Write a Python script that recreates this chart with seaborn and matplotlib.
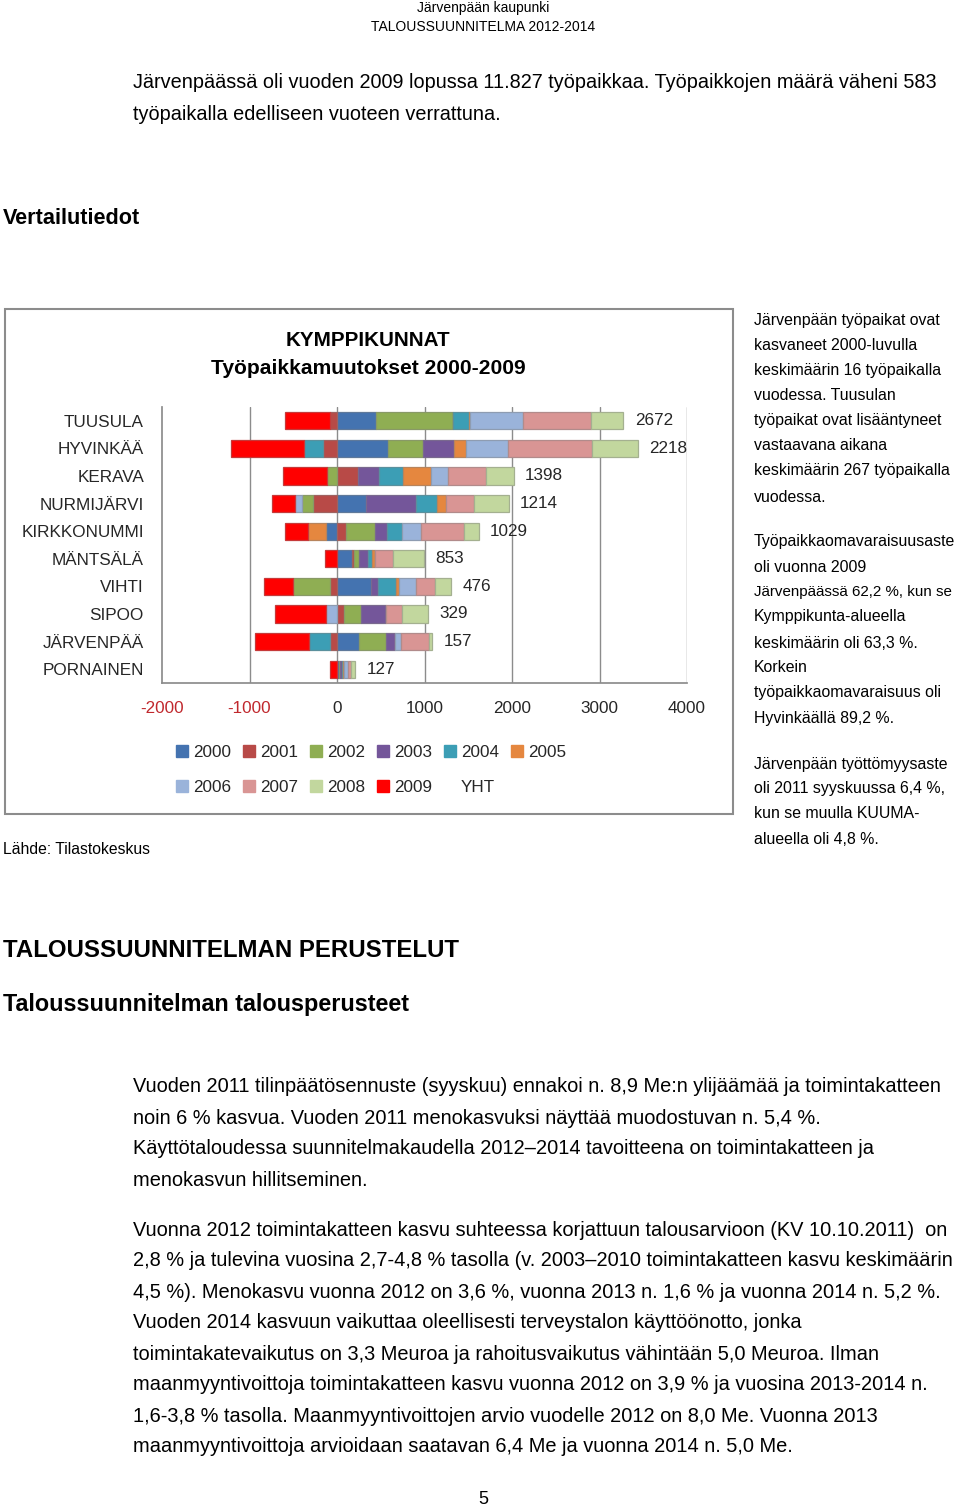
import numpy as np
import matplotlib
matplotlib.use('Agg')
import matplotlib.pyplot as plt
import matplotlib.colors as mcolors
from matplotlib.patches import Patch, Rectangle
import seaborn as sns

# --- Data ---
kunnat = ['TUUSULA', 'HYVINKÄÄ', 'KERAVA', 'NURMIJÄRVI', 'KIRKKONUMMI',
          'MÄNTSÄLÄ', 'VIHTI', 'SIPOO', 'JÄRVENPÄÄ', 'PORNAINEN']
vuodet = ['2000', '2001', '2002', '2003', '2004', '2005', '2006', '2007', '2008', '2009']

v2000 = [440, 585, 0, 328, -122, 171, 385, 0, 251, 25]
v2001 = [-80, -155, 236, -278, 99, 20, -76, 84, -84, 0]
v2002 = [885, 400, -118, -118, 331, 61, -427, 194, 312, 10]
v2003 = [0, 355, 248, 570, 145, 103, 84, 282, 103, 20]
v2004 = [180, -220, 274, 248, 171, 46, 210, 0, -240, 15]
v2005 = [15, 130, 316, 95, -213, 30, 25, 0, 0, 5]
v2006 = [600, 485, 190, -84, 217, 0, 202, -122, 69, 55]
v2007 = [780, 960, 440, 320, 485, 210, 218, 183, 316, 30]
v2008 = [372, 520, 316, 400, 171, 353, 183, 298, 38, 51]
v2009 = [-520, -842, -504, -267, -255, -141, -328, -590, -608, -84]
yht = [2672, 2218, 1398, 1214, 1029, 853, 476, 329, 157, 127]

sarjat = [v2000, v2001, v2002, v2003, v2004, v2005, v2006, v2007, v2008, v2009]
varit = ['#4473B0', '#B84A47', '#8FAE53', '#74569A', '#3C9EB5',
         '#E5873F', '#9AB3DA', '#D99594', '#C2D79E', '#FF0000']

# --- Style ---
sns.set_theme(style='white')
plt.rcParams['font.family'] = ['Liberation Sans', 'DejaVu Sans']

W, H = 960, 1509
fig = plt.figure(figsize=(W / 100, H / 100), dpi=100)


def px(x, y):
    return x / W, 1 - y / H


def teksti(x, y, s, size=14.4, **kw):
    fx, fy = px(x, y)
    fig.text(fx, fy, s, fontsize=size, va='center', color='black', **kw)


# --- Page text ---
teksti(483, 8, 'Järvenpään kaupunki', size=10, ha='center')
teksti(483, 27, 'TALOUSSUUNNITELMA 2012-2014', size=10, ha='center')
teksti(133, 83, 'Järvenpäässä oli vuoden 2009 lopussa 11.827 työpaikkaa. Työpaikkojen määrä väheni 583', size=14.3)
teksti(133, 114, 'työpaikalla edelliseen vuoteen verrattuna.', size=14.3)
teksti(3, 219, 'Vertailutiedot', size=15.6, weight='bold')

oikea = [
    (320, 'Järvenpään työpaikat ovat'), (345, 'kasvaneet 2000-luvulla'),
    (370, 'keskimäärin 16 työpaikalla'), (395, 'vuodessa. Tuusulan'),
    (421, 'työpaikat ovat lisääntyneet'), (446, 'vastaavana aikana'),
    (471, 'keskimäärin 267 työpaikalla'), (497, 'vuodessa.'),
    (542, 'Työpaikkaomavaraisuusaste'), (567, 'oli vuonna 2009'),
    (592, 'Järvenpäässä 62,2 %, kun se'), (617, 'Kymppikunta-alueella'),
    (643, 'keskimäärin oli 63,3 %.'), (668, 'Korkein'),
    (693, 'työpaikkaomavaraisuus oli'), (718, 'Hyvinkäällä 89,2 %.'),
    (764, 'Järvenpään työttömyysaste'), (789, 'oli 2011 syyskuussa 6,4 %,'),
    (814, 'kun se muulla KUUMA-'), (840, 'alueella oli 4,8 %.'),
]
for y, s in oikea:
    koko = 10.9 if s.startswith('Järvenpäässä 62') else 11.4
    teksti(754, y, s, size=koko)

teksti(3, 849, 'Lähde: Tilastokeskus', size=11.3)
teksti(3, 950, 'TALOUSSUUNNITELMAN PERUSTELUT', size=17.3, weight='bold')
teksti(3, 1004, 'Taloussuunnitelman talousperusteet', size=16.8, weight='bold')

alhaalla = [
    (1087, 'Vuoden 2011 tilinpäätösennuste (syyskuu) ennakoi n. 8,9 Me:n ylijäämää ja toimintakatteen'),
    (1118, 'noin 6 % kasvua. Vuoden 2011 menokasvuksi näyttää muodostuvan n. 5,4 %.'),
    (1149, 'Käyttötaloudessa suunnitelmakaudella 2012–2014 tavoitteena on toimintakatteen ja'),
    (1180, 'menokasvun hillitseminen.'),
    (1230, 'Vuonna 2012 toimintakatteen kasvu suhteessa korjattuun talousarvioon (KV 10.10.2011)  on'),
    (1261, '2,8 % ja tulevina vuosina 2,7-4,8 % tasolla (v. 2003–2010 toimintakatteen kasvu keskimäärin'),
    (1292, '4,5 %). Menokasvu vuonna 2012 on 3,6 %, vuonna 2013 n. 1,6 % ja vuonna 2014 n. 5,2 %.'),
    (1323, 'Vuoden 2014 kasvuun vaikuttaa oleellisesti terveystalon käyttöönotto, jonka'),
    (1354, 'toimintakatevaikutus on 3,3 Meuroa ja rahoitusvaikutus vähintään 5,0 Meuroa. Ilman'),
    (1385, 'maanmyyntivoittoja toimintakatteen kasvu vuonna 2012 on 3,9 % ja vuosina 2013-2014 n.'),
    (1416, '1,6-3,8 % tasolla. Maanmyyntivoittojen arvio vuodelle 2012 on 8,0 Me. Vuonna 2013'),
    (1447, 'maanmyyntivoittoja arvioidaan saatavan 6,4 Me ja vuonna 2014 n. 5,0 Me.'),
]
for y, s in alhaalla:
    teksti(133, y, s, size=14.4)

teksti(483, 1500, '5', size=13, ha='center')

# --- Chart frame ---
fx0, fy0 = px(5, 814)
fx1, fy1 = px(733, 309)
fig.patches.append(Rectangle((fx0, fy0), fx1 - fx0, fy1 - fy0, transform=fig.transFigure,
                             fill=False, edgecolor='#8c8c8c', linewidth=1.5))
teksti(368, 340, 'KYMPPIKUNNAT', size=14.9, weight='bold', ha='center')
teksti(368, 369, 'Työpaikkamuutokset 2000-2009', size=15.1, weight='bold', ha='center')

# --- Axes ---
ax_l, ax_b = px(162, 683)
ax_r, ax_t = px(687, 407)
ax = fig.add_axes([ax_l, ax_b, ax_r - ax_l, ax_t - ax_b])

y = np.arange(len(kunnat))
pos = np.zeros(len(kunnat))
neg = np.zeros(len(kunnat))
for vals, col in zip(sarjat, varit):
    v = np.array(vals, dtype=float)
    left = np.where(v >= 0, pos, neg)
    rgb = np.array(mcolors.to_rgb(col))
    edge = rgb * 0.55 + 0.45 * 0.5
    ax.barh(y, v, left=left, height=0.63, color=col, edgecolor=edge, linewidth=0.9, zorder=3)
    pos += np.where(v >= 0, v, 0)
    neg += np.where(v < 0, v, 0)

for yi, p, t in zip(y, pos, yht):
    ax.text(p + 130, yi, str(t), va='center', ha='left', fontsize=12.3, zorder=4)

ax.set_xlim(-2000, 4000)
ax.set_ylim(len(kunnat) - 0.5, -0.5)
ax.set_xticks([-2000, -1000, 0, 1000, 2000, 3000, 4000])
ax.set_xticklabels(['-2000', '-1000', '0', '1000', '2000', '3000', '4000'])
for lbl in ax.get_xticklabels()[:2]:
    lbl.set_color('#C0282D')
ax.set_yticks(y)
ax.set_yticklabels(kunnat)
ax.tick_params(axis='x', length=0, pad=13, labelsize=12.3)
ax.tick_params(axis='y', length=0, pad=13, labelsize=12.3)
for xv in [-1000, 0, 1000, 2000, 3000, 4000]:
    ax.axvline(xv, color='#8c8c8c', linewidth=1, zorder=1)
sns.despine(ax=ax, top=True, right=True)
ax.spines['left'].set_color('#8c8c8c')
ax.spines['bottom'].set_color('#8c8c8c')
ax.set_facecolor('none')

# --- Legend ---
handles = [Patch(facecolor=c, edgecolor=c) for c in varit]
handles.append(Patch(facecolor='none', edgecolor='none'))
labels = vuodet + ['YHT']
order = [0, 6, 1, 7, 2, 8, 3, 9, 4, 10, 5]
lx, ly = px(167, 736)
fig.legend([handles[i] for i in order], [labels[i] for i in order],
           loc='upper left', bbox_to_anchor=(lx, ly), ncol=6, frameon=False,
           fontsize=12.3, handlelength=0.7, handleheight=0.7, handletextpad=0.3,
           columnspacing=0.7, labelspacing=1.2, borderpad=0)

fig.savefig('out.png', dpi=100)
